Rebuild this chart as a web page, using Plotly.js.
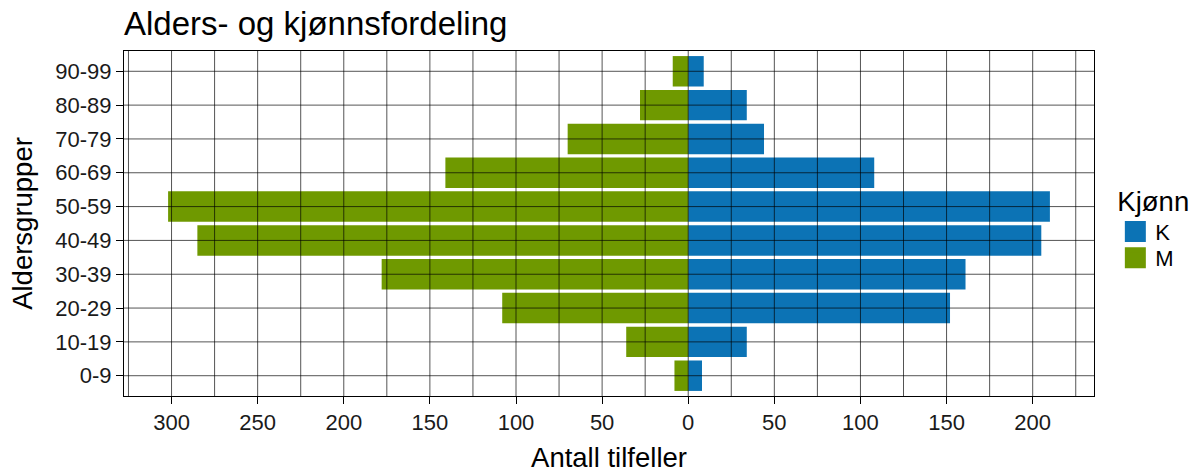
<!DOCTYPE html>
<html>
<head>
<meta charset="utf-8">
<script src="https://cdn.plot.ly/plotly-3.0.1.min.js"></script>
<style>html,body{margin:0;padding:0;background:#fff}#chart{width:1204px;height:473px}</style>
</head>
<body>
<div id="chart"></div>
<script>
const ageGroups = ['0-9','10-19','20-29','30-39','40-49','50-59','60-69','70-79','80-89','90-99'];
const kvinner = [8, 34, 152, 161, 205, 210, 108, 44, 34, 9];
const menn = [8, 36, 108, 178, 285, 302, 141, 70, 28, 9];
const seriesNames = ['K', 'M'];
const tickValues = [-300, -250, -200, -150, -100, -50, 0, 50, 100, 150, 200];
const tickLabels = ['300','250','200','150','100','50','0','50','100','150','200'];

const blue = '#0c73b5';
const green = '#6f9900';
const font = 'Liberation Sans, Arial, sans-serif';

const mennNeg = menn.map(v => -v);
const xmin = Math.min(...mennNeg), xmax = Math.max(...kvinner);
const pad = (xmax - xmin) * 0.05;
const xr = [xmin - pad, xmax + pad];

const traces = [
  {type:'bar', orientation:'h', y:ageGroups, x:kvinner, name:seriesNames[0], marker:{color:blue}, width:0.9, showlegend:false, legendgroup:'K', hoverinfo:'x+y'},
  {type:'bar', orientation:'h', y:ageGroups, x:mennNeg, name:seriesNames[1], marker:{color:green}, width:0.9, showlegend:false, legendgroup:'M', hoverinfo:'y'},
  {type:'scatter', mode:'markers', x:[null], y:[null], name:seriesNames[0], legend:'legend', legendgroup:'K', marker:{symbol:'square', size:16, color:blue, line:{color:blue, width:5}}},
  {type:'scatter', mode:'markers', x:[null], y:[null], name:seriesNames[1], legend:'legend2', legendgroup:'M', marker:{symbol:'square', size:16, color:green, line:{color:green, width:5}}}
];

// grid lines drawn above bars, as in the reference
const shapes = [];
for (let v = Math.ceil(xr[0]/25)*25; v <= xr[1]; v += 25) {
  shapes.push({type:'line', layer:'above', xref:'x', yref:'paper', x0:v, x1:v, y0:0, y1:1, line:{color:'rgba(0,0,0,0.75)', width:0.9}});
}
ageGroups.forEach((g, i) => {
  shapes.push({type:'line', layer:'above', xref:'paper', yref:'y', x0:0, x1:1, y0:i, y1:i, line:{color:'rgba(0,0,0,0.75)', width:0.9}});
});

const layout = {
  width:1204, height:473,
  margin:{l:124, r:110, t:51, b:77, pad:0},
  paper_bgcolor:'#fff', plot_bgcolor:'#fff',
  font:{family:font, color:'#000', size:22},
  barmode:'relative', bargap:0.1,
  title:{text:'Alders- og kjønnsfordeling', font:{family:font, size:33, color:'#000'}, x:0, xref:'paper', xanchor:'left', yref:'container', y:0.95, yanchor:'middle'},
  xaxis:{range:xr, tickvals:tickValues, ticktext:tickLabels, showgrid:false, zeroline:false,
    showline:true, mirror:true, linecolor:'#000', linewidth:1,
    ticks:'outside', ticklen:7, tickcolor:'#000', tickwidth:1,
    tickfont:{size:22, color:'#1a1a1a'},
    title:{text:'Antall tilfeller', font:{size:27.5, color:'#000'}, standoff:16}},
  yaxis:{type:'category', categoryorder:'array', categoryarray:ageGroups, range:[-0.6, ageGroups.length-0.4],
    showgrid:false, zeroline:false, showline:true, mirror:true, linecolor:'#000', linewidth:1,
    ticks:'outside', ticklen:7, tickcolor:'#000', tickwidth:1,
    tickfont:{size:22, color:'#1a1a1a'},
    title:{text:'Aldersgrupper', font:{size:27.5, color:'#000'}, standoff:14}},
  legend:{x:1.022, xanchor:'left', y:0.6406, yanchor:'top', traceorder:'normal',
    title:{text:'Kjønn', font:{size:27.5, color:'#000'}}, font:{size:22, color:'#000'}, bgcolor:'rgba(0,0,0,0)'},
  legend2:{x:1.022, xanchor:'left', y:0.4609, yanchor:'top',
    font:{size:22, color:'#000'}, bgcolor:'rgba(0,0,0,0)'},
  shapes:shapes
};

Plotly.newPlot('chart', traces, layout, {displayModeBar:false, staticPlot:true});
</script>
</body>
</html>
